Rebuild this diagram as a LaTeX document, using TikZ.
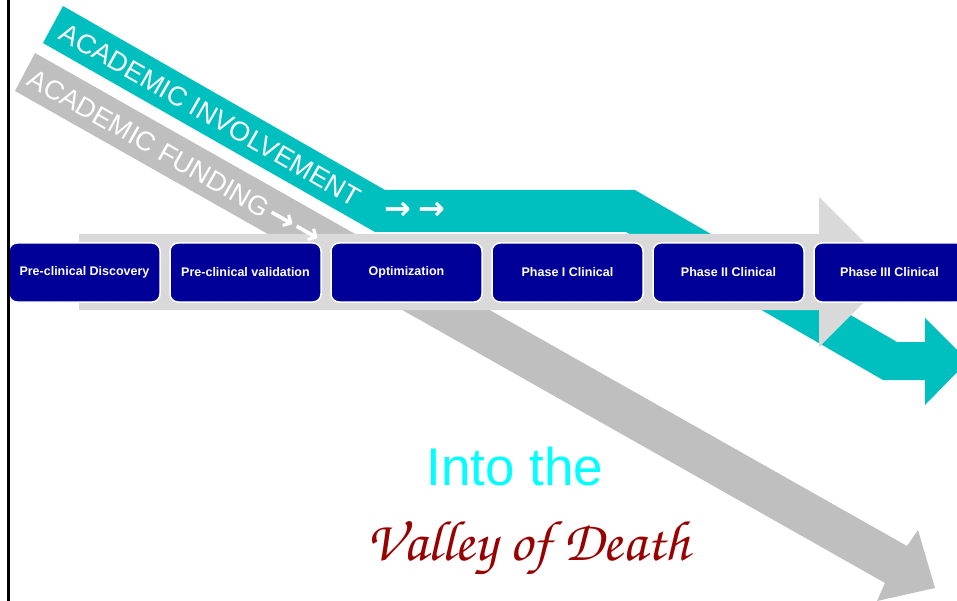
\documentclass[tikz,border=0pt]{standalone}
\usepackage{fontspec}
\setmainfont{Liberation Sans}
\newfontfamily\arrowfont{DejaVu Sans}
\newfontfamily\valleyfont{texgyrechorus-mediumitalic.otf}

\definecolor{stagenavy}{RGB}{0,0,153}
\definecolor{involveteal}{RGB}{0,191,191}
\definecolor{fundgrey}{RGB}{191,191,191}
\definecolor{pipegrey}{RGB}{217,217,217}
\definecolor{intocyan}{RGB}{0,255,255}
\definecolor{deathred}{RGB}{153,0,0}

\tikzset{
  stage/.style={draw=white, line width=1.5pt, fill=stagenavy, rounded corners=8pt,
    minimum width=151pt, minimum height=59pt, inner sep=0pt, text=white,
    font=\fontsize{12.5}{14}\selectfont\bfseries},
  bandtext/.style={text=white, inner sep=0pt, font=\fontsize{27}{30}\selectfont},
}

\begin{document}
\begin{tikzpicture}[x=1pt,y=-1pt]
   \useasboundingbox (0,0) rectangle (957,601);
   \clip (0,0) rectangle (957,601);
   \fill[fundgrey] (35,53) -- (907,546) -- (918,530) -- (935,588) -- (877,601)
      -- (885,583) -- (15,91) -- cycle;
   \fill[involveteal] (63,6) -- (385,190) -- (635,190) -- (897,342) -- (925,342)
      -- (925,318) -- (968,361) -- (925,405) -- (925,380) -- (883,380)
      -- (626,232) -- (375,232) -- (43,43) -- cycle;
   \fill[pipegrey] (79,234) -- (819,234) -- (819,197) -- (894,272) -- (819,347)
      -- (819,310) -- (79,310) -- cycle;
   \node[bandtext,rotate=-29.7,anchor=west] (involvement) at (62,30) {ACADEMIC INVOLVEMENT};
   \node[bandtext,font=\arrowfont\bfseries\fontsize{32}{34}\selectfont] (involvearrows) at (415,211) {→\hspace{7pt}→};
   \node[bandtext,rotate=-29.5,anchor=west] (funding) at (30,76)
      {ACADEMIC FUNDING{\arrowfont\bfseries\fontsize{32}{34}\selectfont\hspace{3pt}→\hspace{2pt}→}};
   \node[stage] (discovery)    at (84.5,272.5)  {Pre-clinical Discovery};
   \node[stage] (validation)   at (245.5,272.5) {Pre-clinical validation};
   \node[stage] (optimization) at (406.5,272.5) {Optimization};
   \node[stage] (phaseone)     at (567.5,272.5) {Phase I Clinical};
   \node[stage] (phasetwo)     at (728.5,272.5) {Phase II Clinical};
   \node[stage] (phasethree)   at (889.5,272.5) {Phase III Clinical};
   \node[text=intocyan,inner sep=0pt,font=\fontsize{53}{60}\selectfont,anchor=base] (intothe) at (515,485) {Into the};
   \node[text=deathred,inner sep=0pt,font=\valleyfont\fontsize{57}{64}\selectfont,anchor=base] (valley) at (528,560) {Valley of Death};
   \draw[line width=2.3pt] (8.5,0) -- (8.5,601);
\end{tikzpicture}
\end{document}
